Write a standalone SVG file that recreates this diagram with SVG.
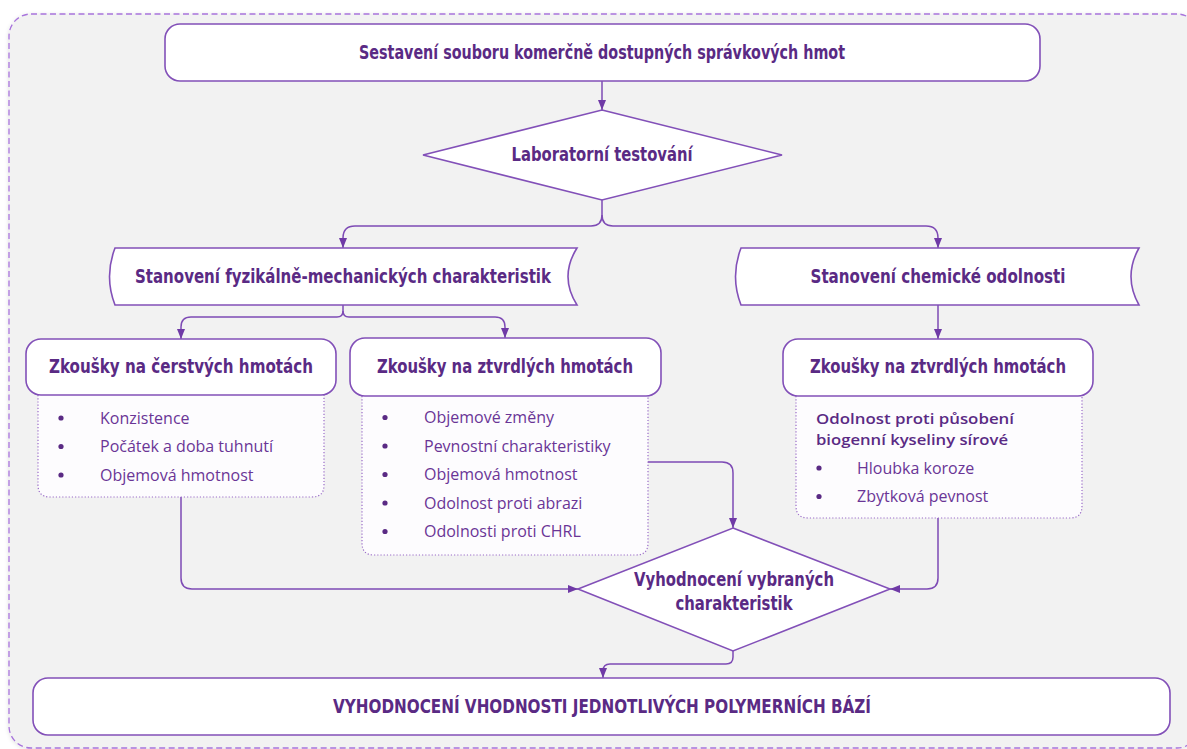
<svg xmlns="http://www.w3.org/2000/svg" width="1187" height="749" viewBox="0 0 1187 749">
<style>
.bg{fill:#ffffff}
.frame{fill:#f2f2f2;stroke:#a874dc;stroke-width:1.3;stroke-dasharray:6 3.5}
.node{fill:#ffffff;stroke:#8250b8;stroke-width:1.6}
.list{fill:#fdfcfe;stroke:#9a6bc8;stroke-width:1.2;stroke-dasharray:1.2 2}
.t{font-family:"Liberation Sans Narrow","DejaVu Sans Condensed","Roboto",sans-serif;font-weight:bold;font-size:19px;fill:#5a2a84;text-anchor:middle}
.li{font-family:"Open Sans","Noto Sans",sans-serif;font-size:16px;fill:#6a3596}
.lh{font-family:"Open Sans","Noto Sans",sans-serif;font-weight:600;font-size:15px;fill:#5a2a84}
.b{fill:#5a2a84}
.c{fill:none;stroke:#7e4bb5;stroke-width:1.5}
</style>
<defs>
<marker id="ah" viewBox="0 0 10 8" refX="10" refY="4" markerWidth="10" markerHeight="8" markerUnits="userSpaceOnUse" orient="auto">
<path d="M0,0 L10,4 L0,8 Z" fill="#6f3aa6"/>
</marker>
<filter id="sh" x="-5%" y="-5%" width="110%" height="110%">
<feDropShadow dx="0" dy="1" stdDeviation="2" flood-color="#000" flood-opacity="0.12"/>
</filter>
</defs>
<rect class="bg" x="0" y="0" width="1187" height="749"/>
<rect class="frame" x="9" y="14" width="1190" height="734" rx="22" filter="url(#sh)"/>

<g id="connectors">
<path class="c" d="M602,81 V110" marker-end="url(#ah)"/>
<path class="c" d="M602,200 V215 Q602,226 591,226 H355 Q343,226 343,238 V248" marker-end="url(#ah)"/>
<path class="c" d="M602,215 Q602,226 613,226 H926 Q938,226 938,238 V248" marker-end="url(#ah)"/>
<path class="c" d="M343,305 V311 Q343,317 337,317 H191 Q181,317 181,327 V339" marker-end="url(#ah)"/>
<path class="c" d="M343,311 Q343,317 349,317 H495 Q505,317 505,327 V338" marker-end="url(#ah)"/>
<path class="c" d="M938,305 V339" marker-end="url(#ah)"/>
<path class="c" d="M181,497 V578 Q181,589 192,589 H578" marker-end="url(#ah)"/>
<path class="c" d="M648,462 H722 Q733,462 733,473 V528" marker-end="url(#ah)"/>
<path class="c" d="M938,518 V578 Q938,589 927,589 H890" marker-end="url(#ah)"/>
<path class="c" d="M733,651 V657 Q733,664 726,664 H610 Q603,664 603,671 V678" marker-end="url(#ah)"/>
</g>

<g id="n-sestaveni">
<rect class="node" x="165" y="24" width="875" height="57" rx="15"/>
<text class="t" x="602" y="59" textLength="486" lengthAdjust="spacingAndGlyphs">Sestavení souboru komerčně dostupných  správkových hmot</text>
</g>

<g id="n-laboratorni">
<polygon class="node" points="602,110 782,155 602,200 423,155"/>
<text class="t" x="602" y="161" textLength="181" lengthAdjust="spacingAndGlyphs">Laboratorní testování</text>
</g>

<g id="n-fyzikalne">
<path class="node" d="M115,248 L577,248 Q559,276.5 577,305 L115,305 Q104,276.5 115,248 Z"/>
<text class="t" x="343" y="283" textLength="416" lengthAdjust="spacingAndGlyphs">Stanovení fyzikálně-mechanických charakteristik</text>
</g>

<g id="n-chemicke">
<path class="node" d="M741,248 L1139,248 Q1123,276.5 1139,305 L741,305 Q730,276.5 741,248 Z"/>
<text class="t" x="938" y="283" textLength="255" lengthAdjust="spacingAndGlyphs">Stanovení chemické odolnosti</text>
</g>

<g id="n-cerstve">
<path class="list" d="M38,395 V485 Q38,497 50,497 H312 Q324,497 324,485 V395"/>
<rect class="node" x="26" y="339" width="310" height="56" rx="15"/>
<text class="t" x="181" y="373" textLength="264" lengthAdjust="spacingAndGlyphs">Zkoušky na čerstvých hmotách</text>
<circle class="b" cx="61" cy="418" r="2.6"/>
<circle class="b" cx="61" cy="446.5" r="2.6"/>
<circle class="b" cx="61" cy="475" r="2.6"/>
<text class="li" x="100" y="423.5">Konzistence</text>
<text class="li" x="100" y="452">Počátek a doba tuhnutí</text>
<text class="li" x="100" y="480.5">Objemová hmotnost</text>
</g>

<g id="n-ztvrdle1">
<path class="list" d="M362,396 V543 Q362,555 374,555 H636 Q648,555 648,543 V396"/>
<rect class="node" x="350" y="338" width="311" height="58" rx="15"/>
<text class="t" x="505" y="373" textLength="256" lengthAdjust="spacingAndGlyphs">Zkoušky na ztvrdlých hmotách</text>
<circle class="b" cx="385" cy="417.5" r="2.6"/>
<circle class="b" cx="385" cy="446" r="2.6"/>
<circle class="b" cx="385" cy="474.5" r="2.6"/>
<circle class="b" cx="385" cy="503" r="2.6"/>
<circle class="b" cx="385" cy="531.5" r="2.6"/>
<text class="li" x="424" y="423">Objemové změny</text>
<text class="li" x="424" y="451.5">Pevnostní charakteristiky</text>
<text class="li" x="424" y="480">Objemová hmotnost</text>
<text class="li" x="424" y="508.5">Odolnost proti abrazi</text>
<text class="li" x="424" y="537">Odolnosti proti CHRL</text>
</g>

<g id="n-ztvrdle2">
<path class="list" d="M796,396 V506 Q796,518 808,518 H1070 Q1082,518 1082,506 V396"/>
<rect class="node" x="783" y="339" width="310" height="57" rx="15"/>
<text class="t" x="938" y="373" textLength="256" lengthAdjust="spacingAndGlyphs">Zkoušky na ztvrdlých hmotách</text>
<text class="lh" x="816" y="423.5" textLength="198" lengthAdjust="spacingAndGlyphs">Odolnost proti působení</text>
<text class="lh" x="816" y="444.5" textLength="192" lengthAdjust="spacingAndGlyphs">biogenní kyseliny sírové</text>
<circle class="b" cx="819" cy="468" r="2.6"/>
<circle class="b" cx="819" cy="496.5" r="2.6"/>
<text class="li" x="857" y="473.5">Hloubka koroze</text>
<text class="li" x="857" y="502">Zbytková pevnost</text>
</g>

<g id="n-vyhodnoceni">
<polygon class="node" points="733,528 890,589 733,651 578,589"/>
<text class="t" x="734" y="586" textLength="200" lengthAdjust="spacingAndGlyphs">Vyhodnocení vybraných</text>
<text class="t" x="734" y="610" textLength="117" lengthAdjust="spacingAndGlyphs">charakteristik</text>
</g>

<g id="n-zaver">
<rect class="node" x="33" y="678" width="1137" height="57" rx="15"/>
<text class="t" x="602" y="713" textLength="538" lengthAdjust="spacingAndGlyphs">VYHODNOCENÍ VHODNOSTI JEDNOTLIVÝCH POLYMERNÍCH BÁZÍ</text>
</g>
</svg>
